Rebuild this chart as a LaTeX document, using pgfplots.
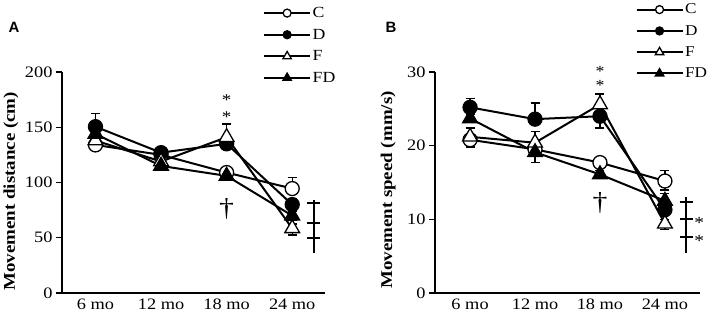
\documentclass[border=0pt]{standalone}
\usepackage{fontspec}
\setmainfont{Liberation Serif}[FakeStretch=1.15]
\newfontfamily\lsans{Liberation Sans}
\usepackage{pgfplots}
\pgfplotsset{compat=1.18}
\newcommand{\tfont}{\fontsize{16}{18}\selectfont}
\newcommand{\lfont}{\fontsize{16.5}{18}\selectfont}
\pgfplotsset{
  myax/.style={
    scale only axis, anchor=south west,
    axis x line=bottom, axis y line=left,
    axis line style={-, line width=1.3bp},
    xmin=0.49, xmax=4.5, xtick={1,2,3,4},
    xticklabels={6 mo,12 mo,18 mo,24 mo},
    x tick style={draw=none},
    xticklabel style={yshift=4bp},
    y tick style={line width=1.3bp, black},
    tick align=outside, major tick length=6bp,
    ymin=0,
    tick label style={font=\tfont},
    /pgf/number format/assume math mode=true,
    clip=false,
    ylabel style={font=\bfseries\lfont, anchor=center},
    legend style={draw=none, fill=none, font=\fontsize{15.5}{18}\selectfont, inner sep=0pt, row sep=6bp, anchor=north west, nodes={inner xsep=1.5bp}},
    legend cell align=left,
    legend image code/.code={\draw[black, line width=2bp] (0bp,0bp) -- (46bp,0bp); \draw[##1, every mark/.append style={scale=0.57}] plot coordinates {(23bp,0bp)};},
  },
  serC/.style={black, line width=2bp, mark=*, mark size=7bp, mark options={solid, fill=white, draw=black, line width=1.3bp}},
  serD/.style={black, line width=2bp, mark=*, mark size=7bp, mark options={solid, fill=black, draw=black, line width=1.3bp}},
  serF/.style={black, line width=2bp, mark=triangle*, mark size=8.5bp, mark options={solid, fill=white, draw=black, line width=1.3bp}},
  serFD/.style={black, line width=2bp, mark=triangle*, mark size=8.5bp, mark options={solid, fill=black, draw=black, line width=1.3bp}},
  eb/.style={error bars/.cd, y dir=both, y explicit, error mark options={rotate=90, mark size=4.5bp, line width=1.3bp, black}, error bar style={line width=1.3bp, black}},
}
\begin{document}
\begin{tikzpicture}
\useasboundingbox (0,0) rectangle (709bp,312bp);
% Panel A
\begin{axis}[myax, at={(62bp,19bp)}, width=263bp, height=221bp,
  ymax=200, ytick={0,50,100,150,200},
  ylabel={Movement distance (cm)},
  ylabel style={at={(axis description cs:-0.194,0.46)}},
  legend style={at={(axis description cs:0.764,1.303)}}]
\addplot[serC, eb] coordinates {(1,134) +- (0,3) (2,125) +- (0,3) (3,109) +- (0,3) (4,94.5) += (0,10) -= (0,3)};
\addplot[serD, eb] coordinates {(1,150.5) += (0,12) -= (0,4) (2,127) +- (0,4) (3,135) +- (0,4) (4,80) +- (0,5)};
\addplot[serF, eb] coordinates {(1,138) +- (0,4) (2,119) +- (0,4) (3,141) += (0,12) -= (0,4) (4,58.5) += (0,4) -= (0,6)};
\addplot[serFD, eb] coordinates {(1,144) +- (0,4) (2,115) +- (0,4) (3,106) +- (0,3) (4,70) +- (0,4)};
\legend{C,D,F,FD}
\node[font=\fontsize{16.5}{17}\selectfont, align=center, inner sep=0pt] at (axis cs:3,167) {*\\*};
\node[font=\fontsize{26}{26}\selectfont] at (axis cs:3,76) {\dag};
\draw[line width=1.9bp] (axis cs:4.33,84.2) -- (axis cs:4.33,36.2);
\draw[line width=1.9bp] (axis cs:4.23,81.4) -- (axis cs:4.43,81.4);
\draw[line width=1.9bp] (axis cs:4.23,63.3) -- (axis cs:4.43,63.3);
\draw[line width=1.9bp] (axis cs:4.23,49.8) -- (axis cs:4.43,49.8);
\end{axis}
% Panel B
\begin{axis}[myax, at={(435bp,19bp)}, width=265bp, height=221bp,
  ymax=30, ytick={0,10,20,30}, xmin=0.46, xmax=4.54,
  ylabel={Movement speed (mm/s)},
  ylabel style={at={(axis description cs:-0.177,0.466)}},
  legend style={at={(axis description cs:0.756,1.318)}, font=\fontsize{15}{18}\selectfont}]
\addplot[serC, eb] coordinates {(1,20.8) += (0,0.5) -= (0,1.0) (2,19.5) +- (0,0.6) (3,17.7) +- (0,0.5) (4,15.2) += (0,1.4) -= (0,1.2)};
\addplot[serD, eb] coordinates {(1,25.2) += (0,1.2) -= (0,0.6) (2,23.6) += (0,2.2) -= (0,0.6) (3,24.0) += (0,0.5) -= (0,1.6) (4,11.3) +- (0,0.8)};
\addplot[serF, eb] coordinates {(1,21.2) += (0,1.2) -= (0,0.6) (2,20.4) += (0,1.5) -= (0,0.6) (3,25.6) += (0,1.4) -= (0,0.6) (4,9.4) += (0,0.6) -= (0,0.8)};
\addplot[serFD, eb] coordinates {(1,23.7) +- (0,0.6) (2,19.1) += (0,0.6) -= (0,1.4) (3,16.1) +- (0,0.5) (4,12.5) += (0,1.0) -= (0,0.6)};
\legend{C,D,F,FD}
\node[font=\fontsize{15.5}{14.5}\selectfont, align=center, inner sep=0pt] at (axis cs:3,29.1) {*\\*};
\node[font=\fontsize{26}{26}\selectfont] at (axis cs:3,12.2) {\dag};
\draw[line width=1.9bp] (axis cs:4.33,13.0) -- (axis cs:4.33,5.4);
\draw[line width=1.9bp] (axis cs:4.23,12.4) -- (axis cs:4.43,12.4);
\draw[line width=1.9bp] (axis cs:4.23,10.0) -- (axis cs:4.43,10.0);
\draw[line width=1.9bp] (axis cs:4.23,7.56) -- (axis cs:4.43,7.56);
\node[font=\fontsize{17}{17}\selectfont, anchor=west, inner sep=0pt, yshift=-4bp] at (axis cs:4.45,10.0) {*};
\node[font=\fontsize{17}{17}\selectfont, anchor=west, inner sep=0pt, yshift=-4bp] at (axis cs:4.45,7.56) {*};
\end{axis}
\node[font=\lsans\bfseries\fontsize{15}{16}\selectfont] at (14bp,285bp) {A};
\node[font=\lsans\bfseries\fontsize{15}{16}\selectfont] at (391bp,285bp) {B};
\end{tikzpicture}
\end{document}
